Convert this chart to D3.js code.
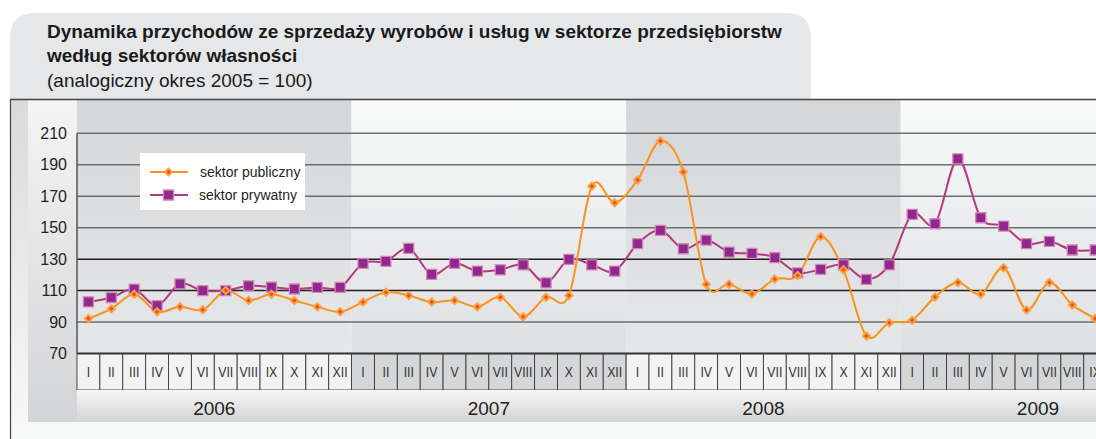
<!DOCTYPE html>
<html><head><meta charset="utf-8">
<script src="https://cdn.jsdelivr.net/npm/d3@7"></script>
<style>body{margin:0;background:#fff}svg{display:block;font-family:"Liberation Sans",Arial,Helvetica,sans-serif}</style>
</head><body><svg id="c" width="1096" height="439"></svg>
<script>
const months = ["I","II","III","IV","V","VI","VII","VIII","IX","X","XI","XII"];
const years = ["2006","2007","2008","2009"];
const yTicks = [70, 90, 110, 130, 150, 170, 190, 210];
const seriesNames = ["sektor publiczny", "sektor prywatny"];
const titleLines = ["Dynamika przychodów ze sprzedaży wyrobów i usług w sektorze przedsiębiorstw", "według sektorów własności"];
const subtitle = "(analogiczny okres 2005 = 100)";
// 2006 I ... 2009 IX
const publiczny = [
  92.3, 98.4, 107.7, 96.5, 99.7, 97.8, 110, 103.7, 107.7, 103.7, 99.7, 96.5,
  102.8, 109, 106.9, 102.7, 103.7, 99.7, 105.8, 93.3, 105.8, 106.9, 176.3, 165.9,
  180.3, 205.1, 185.4, 114.1, 114.1, 107.9, 117.3, 119.6, 144.2, 123.2, 81.2, 89.5,
  91.2, 106, 115.2, 107.7, 124.5, 97.6, 115.2, 100.9, 92.3
];
const prywatny = [
  102.8, 105.6, 110.9, 100.5, 114.3, 110, 110, 113, 112.2, 111, 112, 112,
  127.3, 128.6, 136.8, 120.3, 127.3, 122.4, 123.2, 126.4, 114.9, 129.8, 126.4, 122.4,
  139.8, 148.3, 136.6, 142.1, 134.5, 133.6, 130.9, 121.3, 123.5, 126.4, 117.1, 126.4,
  158.5, 152.5, 193.7, 156.3, 151, 139.8, 141.3, 135.8, 135.8
];

const W = 1096, H = 439;
const svg = d3.select("#c");
const left = 77, plotTop = 133.3, plotBottom = 353.5, bw = 22.88;
const bandTop = 100, monthBottom = 390, yearBottom = 422;
const periods = d3.range(years.length * 12);
const x = d3.scaleBand().domain(periods).range([left, left + periods.length * bw]).padding(0);
const y = d3.scaleLinear().domain([70, 210]).range([plotBottom, plotTop]);
const cx = i => x(i) + x.bandwidth() / 2;

const defs = svg.append("defs");
function grad(id, c1, c2) {
  const g = defs.append("linearGradient").attr("id", id).attr("x1", 0).attr("y1", 0).attr("x2", 0).attr("y2", 1);
  g.append("stop").attr("offset", "0%").attr("stop-color", c1);
  g.append("stop").attr("offset", "100%").attr("stop-color", c2);
}
grad("gDark", "#d5d6d8", "#e6e7e8");
grad("gLight", "#f8f9f9", "#dfe0e2");
grad("gYear", "#f7f7f7", "#d2d3d5");
grad("gLeft", "#f4f4f4", "#d3d4d6");
grad("gStrip", "#d9dadc", "#f7f7f7");

// frame background
svg.append("rect").attr("x", 10).attr("y", 100).attr("width", W - 10).attr("height", H - 100).attr("fill", "#f7f8f8");
svg.append("rect").attr("x", 10).attr("y", 100).attr("width", 18).attr("height", yearBottom - 100).attr("fill", "url(#gStrip)");
svg.append("rect").attr("x", 28).attr("y", 100).attr("width", left - 28).attr("height", yearBottom - 100).attr("fill", "url(#gLeft)");

// title panel
const r = 25, px0 = 10, px1 = 811, py0 = 13, py1 = 100;
svg.append("path")
  .attr("d", `M${px0},${py1} L${px0},${py0 + r} Q${px0},${py0} ${px0 + r},${py0} L${px1 - r},${py0} Q${px1},${py0} ${px1},${py0 + r} L${px1},${py1} Z`)
  .attr("fill", "#e6e7e8");
svg.append("text").attr("x", 47).attr("y", 38).attr("font-size", 19).attr("font-weight", "bold").attr("fill", "#1a1a1a").text(titleLines[0]);
svg.append("text").attr("x", 47).attr("y", 62).attr("font-size", 19).attr("font-weight", "bold").attr("fill", "#1a1a1a").text(titleLines[1]);
svg.append("text").attr("x", 47).attr("y", 87).attr("font-size", 19).attr("fill", "#1a1a1a").text(subtitle);

// year bands
svg.append("g").selectAll("rect").data(years).join("rect")
  .attr("x", (d, k) => x(k * 12)).attr("y", bandTop)
  .attr("width", 12 * bw).attr("height", plotBottom - bandTop)
  .attr("fill", (d, k) => k % 2 === 0 ? "url(#gDark)" : "url(#gLight)");

// gridlines
svg.append("g").selectAll("line").data(yTicks.filter(t => t > 70)).join("line")
  .attr("x1", left).attr("x2", W).attr("y1", d => y(d)).attr("y2", d => y(d))
  .attr("stroke", d => (d === 110 || d === 130) ? "#231f20" : "#6d6e71").attr("stroke-width", 1.5);

// y labels
svg.append("g").selectAll("text").data(yTicks).join("text")
  .attr("x", 67).attr("y", d => y(d) + 5.5).attr("text-anchor", "end")
  .attr("font-size", 16).attr("fill", "#231f20").text(d => d);

// month cells
const mg = svg.append("g");
mg.selectAll("rect").data(periods).join("rect")
  .attr("x", d => x(d)).attr("y", plotBottom).attr("width", bw).attr("height", monthBottom - plotBottom)
  .attr("fill", d => Math.floor(d / 12) % 2 === 0 ? "#f2f2f3" : "#d5d6d8")
  .attr("stroke", "#3a3a3a").attr("stroke-width", 0.9);
mg.selectAll("text").data(periods).join("text")
  .attr("transform", d => `translate(${cx(d)},${(plotBottom + monthBottom) / 2 + 5.5}) scale(0.82,1)`)
  .attr("text-anchor", "middle").attr("font-size", 15).attr("fill", "#333")
  .text(d => months[d % 12]);

// year row
svg.append("rect").attr("x", left).attr("y", monthBottom).attr("width", W - left).attr("height", yearBottom - monthBottom).attr("fill", "url(#gYear)");
svg.append("g").selectAll("text").data(years).join("text")
  .attr("x", (d, k) => x(k * 12 + 6)).attr("y", 415).attr("text-anchor", "middle")
  .attr("font-size", 19).attr("fill", "#231f20").text(d => d);

// axes lines
svg.append("line").attr("x1", left).attr("x2", W).attr("y1", plotBottom).attr("y2", plotBottom).attr("stroke", "#333").attr("stroke-width", 2);
svg.append("line").attr("x1", left).attr("x2", left).attr("y1", plotTop).attr("y2", plotBottom).attr("stroke", "#555").attr("stroke-width", 1.5);

// frame lines
svg.append("line").attr("x1", 10).attr("x2", W).attr("y1", 99.5).attr("y2", 99.5).attr("stroke", "#444").attr("stroke-width", 1.5);
svg.append("line").attr("x1", 10.5).attr("x2", 10.5).attr("y1", 99.5).attr("y2", H).attr("stroke", "#444").attr("stroke-width", 1.2);

// series
const line = d3.line().x((d, i) => cx(i)).y(d => y(d)).curve(d3.curveCardinal.tension(0));
const orange = "#f7941d", purpleLine = "#b23b80";
svg.append("path").datum(prywatny).attr("d", line).attr("fill", "none").attr("stroke", purpleLine).attr("stroke-width", 2);
svg.append("path").datum(publiczny).attr("d", line).attr("fill", "none").attr("stroke", orange).attr("stroke-width", 2);

const sq = d3.symbol(d3.symbolSquare, 100)();
const dia = d3.symbol(d3.symbolSquare, 50)();
const diaIn = d3.symbol(d3.symbolSquare, 10)();
function purpleMarker(g) {
  g.append("path").attr("d", sq).attr("fill", "#92278f").attr("stroke", "#d183b4").attr("stroke-width", 1.3);
}
function orangeMarker(g) {
  g.append("path").attr("d", dia).attr("transform", "rotate(45)").attr("fill", "#f9a23f");
  g.append("path").attr("d", diaIn).attr("transform", "rotate(45)").attr("fill", "#ef4f23");
}
svg.append("g").selectAll("g").data(prywatny).join("g")
  .attr("transform", (d, i) => `translate(${cx(i)},${y(d)})`).each(function () { purpleMarker(d3.select(this)); });
svg.append("g").selectAll("g").data(publiczny).join("g")
  .attr("transform", (d, i) => `translate(${cx(i)},${y(d)})`).each(function () { orangeMarker(d3.select(this)); });

// legend
const lg = svg.append("g");
lg.append("rect").attr("x", 140).attr("y", 153).attr("width", 165).attr("height", 57).attr("fill", "#fff");
lg.append("line").attr("x1", 150).attr("x2", 188).attr("y1", 172).attr("y2", 172).attr("stroke", orange).attr("stroke-width", 2);
orangeMarker(lg.append("g").attr("transform", "translate(168.5,172)"));
lg.append("text").attr("x", 200).attr("y", 177).attr("font-size", 14).attr("fill", "#231f20").text(seriesNames[0]);
lg.append("line").attr("x1", 150).attr("x2", 188).attr("y1", 195).attr("y2", 195).attr("stroke", purpleLine).attr("stroke-width", 2);
purpleMarker(lg.append("g").attr("transform", "translate(168.5,195)"));
lg.append("text").attr("x", 199).attr("y", 200).attr("font-size", 14).attr("fill", "#231f20").text(seriesNames[1]);
</script></body></html>
